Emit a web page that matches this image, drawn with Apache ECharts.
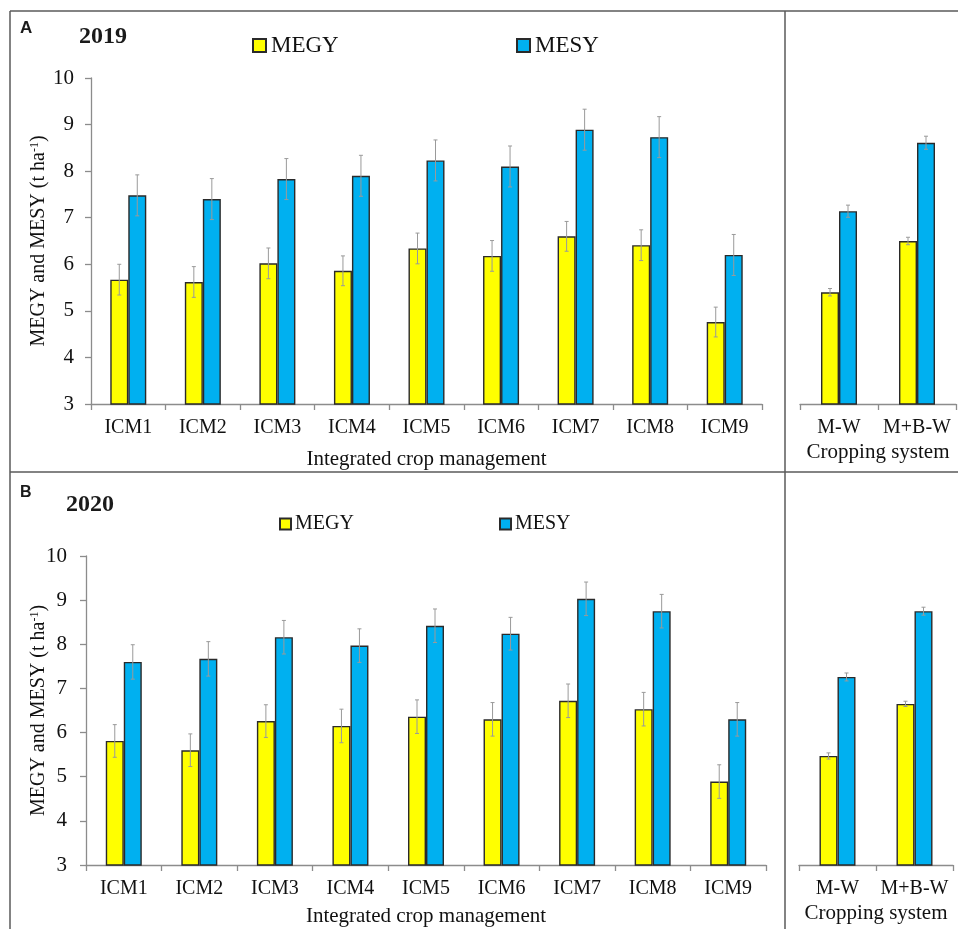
<!DOCTYPE html>
<html>
<head>
<meta charset="utf-8">
<title>MEGY and MESY</title>
<script src="https://cdn.jsdelivr.net/npm/echarts@6/dist/echarts.min.js"></script>
<style>
  html, body { margin: 0; padding: 0; background: #fff; }
  #chart { width: 958px; height: 929px; }
</style>
</head>
<body>
<div id="chart"></div>
<script>
// --- data ---
const icmCategories = ['ICM1', 'ICM2', 'ICM3', 'ICM4', 'ICM5', 'ICM6', 'ICM7', 'ICM8', 'ICM9'];
const systemCategories = ['M-W', 'M+B-W'];
const yTicks = [3, 4, 5, 6, 7, 8, 9, 10];

// 2019
const megy2019 = [5.67, 5.62, 6.02, 5.86, 6.34, 6.18, 6.60, 6.41, 4.76];
const megy2019Err = [0.33, 0.33, 0.33, 0.32, 0.33, 0.33, 0.32, 0.33, 0.32];
const mesy2019 = [7.48, 7.40, 7.83, 7.90, 8.23, 8.10, 8.89, 8.73, 6.20];
const mesy2019Err = [0.44, 0.44, 0.44, 0.44, 0.44, 0.44, 0.44, 0.44, 0.44];
const megySys2019 = [5.40, 6.50];
const megySys2019Err = [0.08, 0.08];
const mesySys2019 = [7.14, 8.61];
const mesySys2019Err = [0.13, 0.14];

// 2020
const megy2020 = [5.81, 5.60, 6.26, 6.15, 6.36, 6.30, 6.72, 6.53, 4.89];
const megy2020Err = [0.37, 0.37, 0.37, 0.38, 0.38, 0.38, 0.38, 0.38, 0.38];
const mesy2020 = [7.60, 7.67, 8.16, 7.97, 8.42, 8.24, 9.03, 8.75, 6.30];
const mesy2020Err = [0.39, 0.39, 0.38, 0.38, 0.38, 0.37, 0.38, 0.38, 0.38];
const megySys2020 = [5.47, 6.65];
const megySys2020Err = [0.07, 0.06];
const mesySys2020 = [7.26, 8.75];
const mesySys2020Err = [0.09, 0.09];

// --- style ---
const SERIF = '"Liberation Serif", "Times New Roman", serif';
const SANS = '"Liberation Sans", Arial, sans-serif';
const YELLOW = '#ffff00';
const BLUE = '#00b0f0';
const AXIS_GRAY = '#8c8c8c';
const FRAME_GRAY = '#5a5a5a';
const TEXT = '#111';
const BAR_W = 18;

const chart = echarts.init(document.getElementById('chart'));

const grids = [
  { left: 91, top: 78, width: 671, height: 326 },   // A - ICM
  { left: 800, top: 78, width: 156, height: 326 },  // A - system
  { left: 86, top: 556, width: 680, height: 309 },  // B - ICM
  { left: 799, top: 556, width: 154, height: 309 }  // B - system
];

const makeX = (gridIndex, data, name, nameGap) => ({
  type: 'category',
  gridIndex,
  data,
  name,
  nameLocation: 'middle',
  nameGap,
  nameTextStyle: { fontFamily: SERIF, fontSize: 21, color: TEXT },
  axisLine: { onZero: false, lineStyle: { color: AXIS_GRAY, width: 1.3 } },
  axisTick: { show: true, length: 6, lineStyle: { color: AXIS_GRAY, width: 1.3 } },
  axisLabel: { interval: 0, margin: 14, fontFamily: SERIF, fontSize: 20, color: TEXT }
});

const makeY = (gridIndex, visible, nameGap, labelMargin) => ({
  type: 'value',
  gridIndex,
  show: visible,
  min: yTicks[0],
  max: yTicks[yTicks.length - 1],
  interval: 1,
  name: visible ? '{a|MEGY and MESY (t ha}{s|-1}{a|)}' : '',
  nameLocation: 'middle',
  nameRotate: 90,
  nameGap,
  nameMoveOverlap: false,
  nameTextStyle: {
    rich: {
      a: { fontFamily: SERIF, fontSize: 20, color: TEXT },
      s: { fontFamily: SERIF, fontSize: 12, color: TEXT, verticalAlign: 'top' }
    }
  },
  splitLine: { show: false },
  axisLine: { show: true, lineStyle: { color: AXIS_GRAY, width: 1.3 } },
  axisTick: { show: true, length: 6, lineStyle: { color: AXIS_GRAY, width: 1.3 } },
  axisLabel: { margin: labelMargin, fontFamily: SERIF, fontSize: 21, color: TEXT }
});

const barSeries = (name, color, axisIndex, values) => ({
  name,
  type: 'bar',
  xAxisIndex: axisIndex,
  yAxisIndex: axisIndex,
  barWidth: BAR_W,
  barGap: '0%',
  itemStyle: { color, borderColor: '#2a2a2a', borderWidth: 1.4 },
  data: values
});

// error bars drawn with a custom series, shifted to the bar centre
const errorSeries = (axisIndex, values, errs, offset) => ({
  type: 'custom',
  xAxisIndex: axisIndex,
  yAxisIndex: axisIndex,
  z: 5,
  silent: true,
  data: values.map((v, i) => [i, v, errs[i]]),
  encode: { x: 0, y: 1 },
  renderItem: (params, api) => {
    const i = api.value(0);
    const v = api.value(1);
    const e = api.value(2);
    const hi = api.coord([i, v + e]);
    const lo = api.coord([i, v - e]);
    const x = hi[0] + offset;
    const st = { stroke: '#9a9a9a', lineWidth: 1 };
    return {
      type: 'group',
      children: [
        { type: 'line', shape: { x1: x, y1: hi[1], x2: x, y2: lo[1] }, style: st },
        { type: 'line', shape: { x1: x - 2, y1: hi[1], x2: x + 2, y2: hi[1] }, style: st },
        { type: 'line', shape: { x1: x - 2, y1: lo[1], x2: x + 2, y2: lo[1] }, style: st }
      ]
    };
  }
});

const legendItem = (name, left, top, size, iconSize, gap) => ({
  data: [name],
  left,
  top,
  padding: 0,
  itemWidth: iconSize,
  itemHeight: iconSize,
  icon: 'rect',
  selectedMode: false,
  textStyle: { fontFamily: SERIF, fontSize: size, color: TEXT, padding: [0, 0, 0, -5 + gap] }
});

const frameLine = (x1, y1, x2, y2) => ({
  type: 'line',
  shape: { x1, y1, x2, y2 },
  style: { stroke: FRAME_GRAY, lineWidth: 1.5 },
  silent: true
});

const label = (text, x, y, font) => ({
  type: 'text',
  x,
  y,
  style: { text, font, fill: '#1a1a1a', verticalAlign: 'middle' },
  silent: true
});

const option = {
  backgroundColor: '#fff',
  animation: false,
  grid: grids,
  xAxis: [
    makeX(0, icmCategories, 'Integrated crop management', 45),
    makeX(1, systemCategories, 'Cropping system', 38),
    makeX(2, icmCategories, 'Integrated crop management', 41),
    makeX(3, systemCategories, 'Cropping system', 38)
  ],
  yAxis: [
    makeY(0, true, 42, 17),
    makeY(1, false, 0, 17),
    makeY(2, true, 37, 19),
    makeY(3, false, 0, 19)
  ],
  legend: [
    legendItem('MEGY', 252, 34, 23, 13, 5),
    legendItem('MESY', 516, 34, 23, 13, 5),
    legendItem('MEGY', 279, 514, 20, 11, 4),
    legendItem('MESY', 499, 514, 20, 11, 4)
  ],
  series: [
    barSeries('MEGY', YELLOW, 0, megy2019),
    barSeries('MESY', BLUE, 0, mesy2019),
    barSeries('MEGY', YELLOW, 1, megySys2019),
    barSeries('MESY', BLUE, 1, mesySys2019),
    barSeries('MEGY', YELLOW, 2, megy2020),
    barSeries('MESY', BLUE, 2, mesy2020),
    barSeries('MEGY', YELLOW, 3, megySys2020),
    barSeries('MESY', BLUE, 3, mesySys2020),
    errorSeries(0, megy2019, megy2019Err, -BAR_W / 2),
    errorSeries(0, mesy2019, mesy2019Err, BAR_W / 2),
    errorSeries(1, megySys2019, megySys2019Err, -BAR_W / 2),
    errorSeries(1, mesySys2019, mesySys2019Err, BAR_W / 2),
    errorSeries(2, megy2020, megy2020Err, -BAR_W / 2),
    errorSeries(2, mesy2020, mesy2020Err, BAR_W / 2),
    errorSeries(3, megySys2020, megySys2020Err, -BAR_W / 2),
    errorSeries(3, mesySys2020, mesySys2020Err, BAR_W / 2)
  ],
  graphic: [
    frameLine(10, 11, 958, 11),
    frameLine(10, 11, 10, 929),
    frameLine(785, 11, 785, 929),
    frameLine(10, 472, 958, 472),
    label('A', 20, 28, 'bold 17px ' + SANS),
    label('2019', 79, 37, 'bold 24px ' + SERIF),
    label('B', 20, 493, 'bold 16px ' + SANS),
    label('2020', 66, 505, 'bold 24px ' + SERIF)
  ]
};

chart.setOption(option);
</script>
</body>
</html>
